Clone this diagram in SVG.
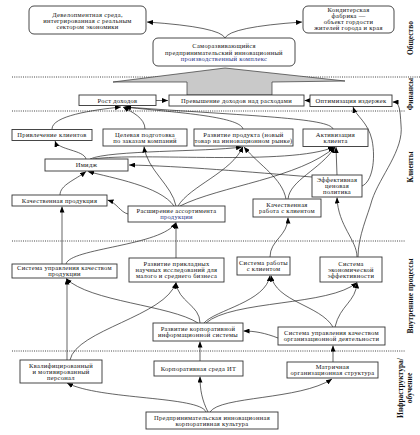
<svg xmlns="http://www.w3.org/2000/svg" width="420" height="435" viewBox="0 0 420 435">
<style>
.b{fill:#fff;stroke:#333;stroke-width:0.9}
.t{font-family:"Liberation Serif","Times New Roman",serif;font-size:6.5px;letter-spacing:0.3px;text-anchor:middle;fill:#111}
.bl{fill:#1f2f86}
.lab{font-family:"Liberation Serif","Times New Roman",serif;font-size:7.5px;font-weight:bold;text-anchor:middle;fill:#111}
.dot{stroke:#444;stroke-width:1;stroke-dasharray:1 1.2;fill:none}
.c{fill:none;stroke:#222;stroke-width:0.7;marker-end:url(#ah)}
</style>
<defs>
<marker id="ah" markerUnits="userSpaceOnUse" markerWidth="6" markerHeight="5" refX="6" refY="2.5" orient="auto">
<path d="M0,0 L6,2.5 L0,5 z" fill="#000"/>
</marker>
</defs>
<rect width="420" height="435" fill="#fff"/>

<g id="separators">
<line class="dot" x1="12" y1="77" x2="420" y2="77"/>
<line class="dot" x1="12" y1="111" x2="405" y2="111"/>
<line class="dot" x1="12" y1="241" x2="405" y2="241"/>
<line class="dot" x1="12" y1="351" x2="405" y2="351"/>
</g>

<g id="side-labels">
<text class="lab" transform="translate(413,38) rotate(-90)">Общество</text>
<text class="lab" transform="translate(413,94) rotate(-90)">Финансы</text>
<text class="lab" transform="translate(413,167) rotate(-90)">Клиенты</text>
<text class="lab" transform="translate(413,296) rotate(-90)">Внутренние процессы</text>
<text class="lab" transform="translate(403,388) rotate(-90)">Инфраструктура/</text>
<text class="lab" transform="translate(412,388) rotate(-90)">обучение</text>
</g>

<g id="big-arrow">
<polygon points="113,82 225,68 345,81 272,82 272,95 187,95 187,82" fill="#c9c9c9" stroke="#333" stroke-width="0.7"/>
</g>

<g id="connectors">
<path class="c" d="M225,38 Q220,27 147,22"/>
<path class="c" d="M225,38 Q230,27 302,22"/>
<path class="c" d="M156,100.5 L168,100.5"/>
<path class="c" d="M310,100.5 L304.5,100.5"/>
<path class="c" d="M52,129 C52,116 92,110 121,107"/>
<path class="c" d="M145,129 C145,118 132,112 123,107"/>
<path class="c" d="M243,129 C240,116 170,112 124,107"/>
<path class="c" d="M333,129 C330,118 250,116 125,107"/>
<path class="c" d="M362,186 C372,182 376,160 372,140 C368,122 356,116 353,107"/>
<path class="c" d="M358,257 C358,236 368,215 372,200 C380,176 404,150 401,125 C400,110 400,102 392.5,102"/>
<path class="c" d="M86,159 C84,150 58,150 55,141"/>
<path class="c" d="M90,159 C110,150 205,152 242,147"/>
<path class="c" d="M93,159 C140,152 290,166 334,147"/>
<path class="c" d="M312,177 C250,172 180,166 129,165"/>
<path class="c" d="M337,175 L336,147"/>
<path class="c" d="M60,195 C60,185 75,180 86,171.5"/>
<path class="c" d="M174,206 C160,186 112,178 88,171.5"/>
<path class="c" d="M128,214 C120,212 117,203 107.5,200"/>
<path class="c" d="M176,206 C172,185 147,170 144,146.5"/>
<path class="c" d="M178,206 C190,186 232,172 243,146.5"/>
<path class="c" d="M180,206 C220,186 300,178 335,147"/>
<path class="c" d="M288,199 C290,180 320,170 335,147"/>
<path class="c" d="M286,199 C282,178 260,166 244,147"/>
<path class="c" d="M62,264 L62,206.5"/>
<path class="c" d="M66,264 C70,248 162,246 176,222.5"/>
<path class="c" d="M176,258 L176,222.5"/>
<path class="c" d="M270,257 C270,240 288,236 288,217.5"/>
<path class="c" d="M357,257 C357,240 338,226 337,197.5"/>
<path class="c" d="M198,323 C170,305 90,302 66,278.5"/>
<path class="c" d="M200,323 C200,305 178,302 176,282.5"/>
<path class="c" d="M204,323 C215,310 266,302 270,275.5"/>
<path class="c" d="M206,323 C232,300 330,306 357,282.5"/>
<path class="c" d="M333,327 C320,305 276,302 271,275.5"/>
<path class="c" d="M335,327 C340,305 356,302 357,282.5"/>
<path class="c" d="M278,338 C265,333 255,331 243.5,331"/>
<path class="c" d="M67,360 L67,278.5"/>
<path class="c" d="M70,360 C76,330 166,316 176,282.5"/>
<path class="c" d="M200,361 L200,341.5"/>
<path class="c" d="M333,362 L333,345.5"/>
<path class="c" d="M206,412 C200,396 100,400 67,383"/>
<path class="c" d="M208,412 C202,400 200,390 200,376.5"/>
<path class="c" d="M210,412 C220,396 300,400 332,379"/>
</g>

<g id="n-society1"><rect class="b" x="29" y="6" width="117" height="28" rx="5"/>
<text class="t" x="87.5" y="17.2">Девелопментная среда,</text>
<text class="t" x="87.5" y="23.2">интегрированная с реальным</text>
<text class="t" x="87.5" y="29.2">сектором экономики</text></g>

<g id="n-society2"><rect class="b" x="303" y="6" width="91" height="27" rx="5"/>
<text class="t" x="348.5" y="11.7">Кондитерская</text>
<text class="t" x="348.5" y="17.7">фабрика —</text>
<text class="t" x="348.5" y="23.7">объект гордости</text>
<text class="t" x="348.5" y="29.7">жителей города и края</text></g>

<g id="n-complex"><rect class="b" x="153" y="38" width="142" height="28" rx="5"/>
<text class="t" x="224" y="48.2">Саморазвивающийся</text>
<text class="t" x="224" y="54.7">предпринимательский инновационный</text>
<text class="t bl" x="224" y="61.2">производственный комплекс</text></g>

<g id="n-rost"><rect class="b" x="79" y="95" width="77" height="10.5"/>
<text class="t" x="117.5" y="102.5">Рост доходов</text></g>

<g id="n-prev"><rect class="b" x="169" y="95" width="135" height="11"/>
<text class="t" x="236.5" y="102.8">Превышение доходов над расходами</text></g>

<g id="n-optim"><rect class="b" x="310" y="95" width="82" height="11.5"/>
<text class="t" x="351" y="103.2">Оптимизация издержек</text></g>

<g id="n-privl"><rect class="b" x="12" y="129.5" width="80" height="11"/>
<text class="t" x="52" y="137.3">Привлечение клиентов</text></g>

<g id="n-celev"><rect class="b" x="103" y="129" width="84" height="17"/>
<text class="t" x="145" y="136.7">Целевая подготовка</text>
<text class="t" x="145" y="142.7">по заказам компаний</text></g>

<g id="n-razv-prod"><rect class="b" x="194" y="129" width="99" height="17"/>
<text class="t" x="243.5" y="136.7">Развитие продукта (новый</text>
<text class="t" x="243.5" y="142.7">товар на инновационном рынке)</text></g>

<g id="n-aktiv"><rect class="b" x="303" y="129" width="65" height="17.5"/>
<text class="t" x="335.5" y="136.7">Активизация</text>
<text class="t" x="335.5" y="142.7">клиента</text></g>

<g id="n-imidzh"><rect class="b" x="45" y="159" width="83" height="12"/>
<text class="t" x="86.5" y="167.3">Имидж</text></g>

<g id="n-cen"><rect class="b" x="312" y="175" width="50" height="22"/>
<text class="t" x="337" y="182.2">Эффективная</text>
<text class="t" x="337" y="188.2">ценовая</text>
<text class="t" x="337" y="194.2">политика</text></g>

<g id="n-kach-prod"><rect class="b" x="12" y="195" width="95" height="11"/>
<text class="t" x="59.5" y="202.8">Качественная продукция</text></g>

<g id="n-rassh"><rect class="b" x="128" y="206" width="97" height="16"/>
<text class="t" x="176.5" y="213.2">Расширение ассортимента</text>
<text class="t bl" x="176.5" y="219.2">продукции</text></g>

<g id="n-kach-rab"><rect class="b" x="253" y="199" width="68" height="18"/>
<text class="t" x="287" y="207.2">Качественная</text>
<text class="t" x="287" y="213.2">работа с клиентом</text></g>

<g id="n-sys-kach"><rect class="b" x="12" y="264" width="105" height="14"/>
<text class="t" x="64.5" y="270.2">Система управления качеством</text>
<text class="t" x="64.5" y="276.2">продукции</text></g>

<g id="n-razv-nauch"><rect class="b" x="129" y="258" width="95" height="24"/>
<text class="t" x="176.5" y="266.2">Развитие прикладных</text>
<text class="t" x="176.5" y="272.2">научных исследований для</text>
<text class="t" x="176.5" y="278.2">малого и среднего бизнеса</text></g>

<g id="n-sys-klient"><rect class="b" x="237" y="257" width="53" height="18"/>
<text class="t" x="263.5" y="265.2">Система работы</text>
<text class="t" x="263.5" y="271.2">с клиентом</text></g>

<g id="n-sys-ekon"><rect class="b" x="320" y="257" width="62" height="25"/>
<text class="t" x="351" y="265.7">Система</text>
<text class="t" x="351" y="271.7">экономической</text>
<text class="t" x="351" y="277.7">эффективности</text></g>

<g id="n-razv-korp"><rect class="b" x="153" y="323" width="90" height="18"/>
<text class="t" x="198" y="331.2">Развитие корпоративной</text>
<text class="t" x="198" y="337.2">информационной системы</text></g>

<g id="n-sys-org"><rect class="b" x="278" y="327" width="107" height="18"/>
<text class="t" x="331.5" y="335.2">Система управления качеством</text>
<text class="t" x="331.5" y="341.2">организационной деятельности</text></g>

<g id="n-personal"><rect class="b" x="20" y="360" width="82" height="23"/>
<text class="t" x="61" y="367.7">Квалифицированный</text>
<text class="t" x="61" y="373.7">и мотивированный</text>
<text class="t" x="61" y="379.7">персонал</text></g>

<g id="n-it"><rect class="b" x="154" y="361" width="89" height="15"/>
<text class="t" x="198.5" y="370.7">Корпоративная среда ИТ</text></g>

<g id="n-matr"><rect class="b" x="287" y="362" width="91" height="16"/>
<text class="t" x="332.5" y="369.2">Матричная</text>
<text class="t" x="332.5" y="375.2">организационная структура</text></g>

<g id="n-kult"><rect class="b" x="146" y="412" width="132" height="17"/>
<text class="t" x="212" y="419.7">Предпринимательская инновационная</text>
<text class="t" x="212" y="425.7">корпоративная культура</text></g>
</svg>
